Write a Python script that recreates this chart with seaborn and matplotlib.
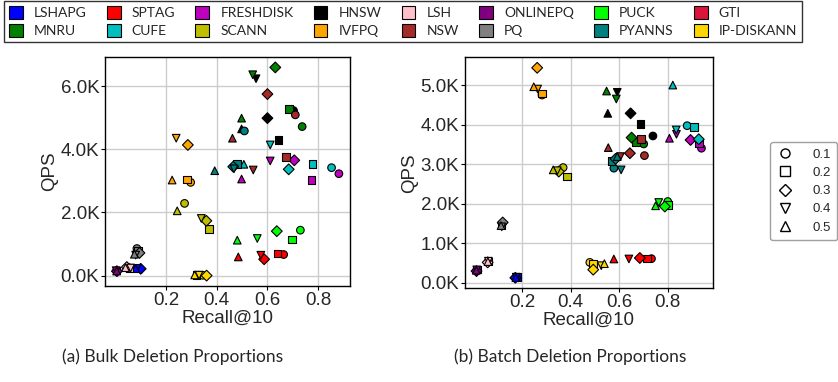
import numpy as np
import pandas as pd
import seaborn as sns
import matplotlib
matplotlib.use("Agg")
import matplotlib.pyplot as plt
from matplotlib.patches import Patch
from matplotlib.lines import Line2D
from matplotlib.ticker import FuncFormatter

# ---------------- data ----------------
methods = ["LSHAPG", "SPTAG", "FRESHDISK", "HNSW", "LSH", "ONLINEPQ", "PUCK", "GTI",
           "MNRU", "CUFE", "SCANN", "IVFPQ", "NSW", "PQ", "PYANNS", "IP-DISKANN"]
colors = ["#0000ff", "#ff0000", "#bf00bf", "#000000", "#ffc0cb", "#800080", "#00ff00", "#dc143c",
          "#008000", "#00bfbf", "#bfbf00", "#ffa500", "#a52a2a", "#808080", "#008080", "#ffd700"]
proportions = ["0.1", "0.2", "0.3", "0.4", "0.5"]
marker_shapes = ["o", "s", "D", "v", "^"]
nan = np.nan

# (a) bulk deletion: rows follow `methods`, columns follow `proportions`
bulk_recall = [
    [0.095, 0.090, 0.100, 0.085, 0.080],
    [0.664, 0.640, 0.587, 0.574, 0.485],
    [0.882, 0.774, 0.706, 0.611, 0.498],
    [0.703, 0.644, 0.600, 0.555, 0.498],
    [0.050, 0.055, 0.045, 0.060, 0.040],
    [0.005, 0.004, 0.006, 0.003, 0.005],
    [0.730, 0.697, 0.637, 0.560, 0.481],
    [nan, nan, nan, nan, nan],
    [0.737, 0.684, 0.631, 0.542, 0.498],
    [0.853, 0.778, 0.684, 0.611, 0.507],
    [0.273, 0.369, 0.359, 0.339, 0.244],
    [0.297, 0.282, 0.286, 0.240, 0.224],
    [0.710, 0.673, 0.600, 0.544, 0.462],
    [0.085, 0.090, 0.095, 0.080, 0.075],
    [0.509, 0.480, 0.465, 0.468, 0.392],
    [0.345, 0.320, 0.360, 0.330, 0.313],
]
bulk_qps = [
    [220, 225, 215, 230, 220],
    [667, 698, 518, 645, 591],
    [3226, 3026, 3651, 3629, 3058],
    [5226, 4296, 4985, 6233, 4645],
    [260, 250, 270, 240, 250],
    [150, 160, 140, 155, 145],
    [1438, 1143, 1407, 1175, 1121],
    [nan, nan, nan, nan, nan],
    [4718, 5270, 6592, 6360, 4985],
    [3417, 3534, 3365, 4137, 3524],
    [2286, 1480, 1735, 1810, 2051],
    [2952, 3048, 4137, 4350, 3026],
    [5090, 3746, 5747, 3343, 4350],
    [857, 780, 718, 650, 676],
    [4580, 3524, 3448, 3380, 3321],
    [10, 20, 0, 15, 20],
]

# (b) batch deletion
batch_recall = [
    [0.175, 0.178, 0.172, 0.176, 0.174],
    [0.733, 0.715, 0.685, 0.640, 0.578],
    [0.939, 0.928, 0.894, 0.836, 0.807],
    [0.739, 0.688, 0.647, 0.592, 0.553],
    [0.060, 0.062, 0.058, 0.061, 0.059],
    [0.012, 0.014, 0.012, 0.013, 0.011],
    [0.800, 0.800, 0.788, 0.763, 0.750],
    [nan, nan, nan, nan, nan],
    [0.701, 0.670, 0.651, 0.588, 0.548],
    [0.880, 0.908, 0.928, 0.835, 0.821],
    [0.369, 0.386, 0.351, 0.345, 0.328],
    [0.282, 0.282, 0.262, 0.264, 0.248],
    [0.704, 0.691, 0.644, 0.605, 0.555],
    [0.118, 0.115, 0.120, 0.116, 0.113],
    [0.578, 0.568, 0.585, 0.608, 0.592],
    [0.479, 0.493, 0.493, 0.526, 0.539],
]
batch_qps = [
    [141, 150, 130, 145, 135],
    [614, 614, 631, 606, 606],
    [3409, 3535, 3618, 3762, 3661],
    [3719, 4022, 4292, 4823, 4292],
    [530, 546, 520, 550, 540],
    [310, 336, 300, 330, 320],
    [2060, 1977, 1934, 2035, 1952],
    [nan, nan, nan, nan, nan],
    [3517, 3560, 3677, 4654, 4856],
    [3979, 3939, 3636, 3871, 5007],
    [2919, 2692, 2818, 2840, 2861],
    [4755, 4797, 5444, 4906, 4964],
    [3222, 3636, 3282, 3197, 3424],
    [1500, 1470, 1530, 1420, 1450],
    [2904, 3088, 3139, 2861, 3197],
    [520, 495, 336, 437, 487],
]


def to_frame(recall, qps):
    rows = []
    for mi, m in enumerate(methods):
        for pi, p in enumerate(proportions):
            rows.append({"method": m, "prop": p,
                         "recall": recall[mi][pi], "qps": qps[mi][pi]})
    return pd.DataFrame(rows).dropna()


sns.set_style("whitegrid")
plt.rcParams["font.family"] = ["Liberation Sans", "DejaVu Sans"]

fig = plt.figure(figsize=(8.38, 3.82), dpi=100)
ax1 = fig.add_axes([0.1253, 0.2513, 0.2924, 0.5995])
ax2 = fig.add_axes([0.5549, 0.2453, 0.2956, 0.6047])

palette = dict(zip(methods, colors))
mk = dict(zip(proportions, marker_shapes))

for ax, (rec, qps), yt in [(ax1, (bulk_recall, bulk_qps), [0, 2000, 4000, 6000]),
                           (ax2, (batch_recall, batch_qps), [0, 1000, 2000, 3000, 4000, 5000])]:
    df = to_frame(rec, qps)
    sns.scatterplot(data=df, x="recall", y="qps", hue="method", style="prop",
                    palette=palette, markers=mk, hue_order=methods,
                    style_order=proportions, s=30, edgecolor="black",
                    linewidth=0.8, legend=False, ax=ax, zorder=3)
    ax.set_xticks([0.2, 0.4, 0.6, 0.8])
    ax.set_yticks(yt)
    ax.yaxis.set_major_formatter(FuncFormatter(lambda v, p: f"{v/1000:.1f}K"))
    ax.set_xlabel("Recall@10", fontsize=13.5, labelpad=1)
    ax.set_ylabel("QPS", fontsize=13.5, labelpad=2)
    ax.tick_params(axis="both", labelsize=13.5, length=3, width=0.8,
                   color="black", pad=1, left=True, bottom=True)
    ax.grid(True, color="#cccccc", linewidth=1.0)
    for sp in ax.spines.values():
        sp.set_color("black")
        sp.set_linewidth(1.0)

# top method legend (row-wise order: first 8 on row 1, next 8 on row 2)
patches = [Patch(facecolor=c, edgecolor="black", linewidth=0.8, label=m)
           for m, c in zip(methods, colors)]
handles = []
for i in range(8):
    handles += [patches[i], patches[i + 8]]
fig.legend(handles=handles, ncol=8, loc="upper left",
           bbox_to_anchor=(0.003, 1.0), frameon=True, fancybox=False,
           edgecolor="black", prop={"family": "Lato", "size": 10},
           handlelength=1.0, handleheight=1.0, handletextpad=0.8,
           columnspacing=1.45, borderpad=0.35, labelspacing=0.35,
           borderaxespad=0.1)

# proportion marker legend
mh = [Line2D([], [], linestyle="none", marker=s, markersize=6.5,
             markerfacecolor="white", markeredgecolor="black",
             markeredgewidth=1.0, label=p)
      for s, p in zip(marker_shapes, proportions)]
fig.legend(handles=mh, loc="upper left", bbox_to_anchor=(0.919, 0.628),
           frameon=True, fancybox=True, edgecolor="#888888",
           prop={"size": 9.5}, handlelength=1.2, handletextpad=1.5,
           labelspacing=0.45, borderpad=0.5, borderaxespad=0.0)

fig.text(0.2064, 0.0654, "(a) Bulk Deletion Proportions", ha="center", va="center",
         fontsize=12.5, family="Lato")
fig.text(0.680, 0.0654, "(b) Batch Deletion Proportions", ha="center", va="center",
         fontsize=12.5, family="Lato")

fig.savefig("out.png", dpi=100)
